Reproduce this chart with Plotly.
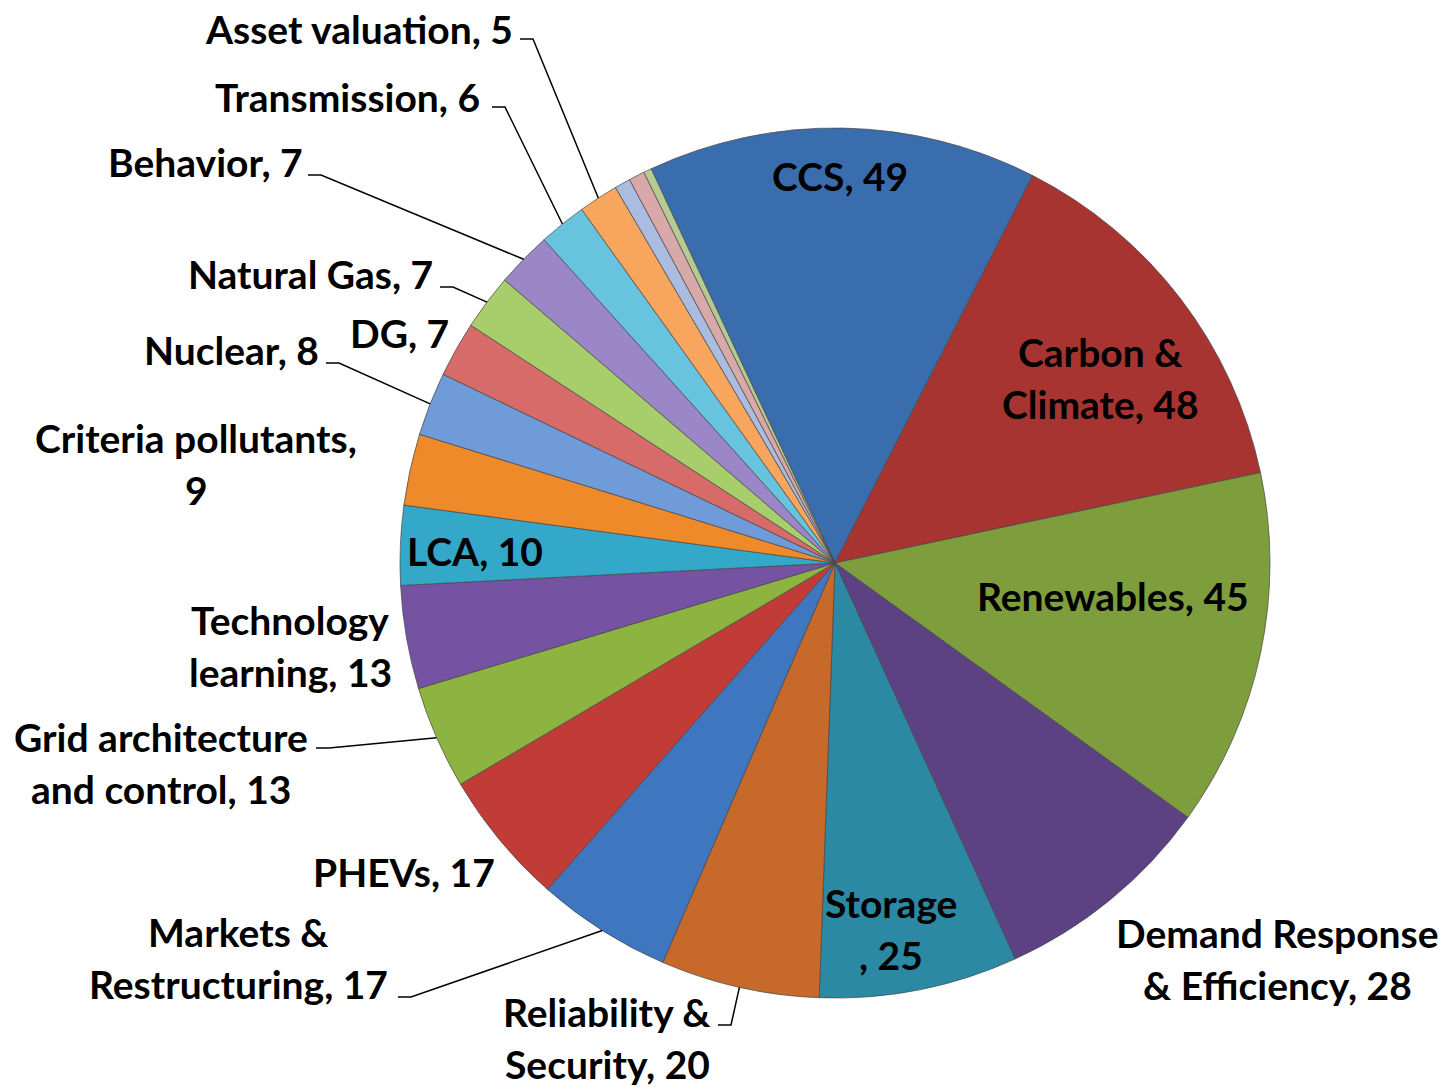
import math
import plotly.graph_objects as go

# ---------------- data ----------------
categories = ["CCS", "Carbon &\nClimate", "Renewables", "Demand Response\n& Efficiency",
              "Storage\n", "Reliability &\nSecurity", "Markets &\nRestructuring", "PHEVs",
              "Grid architecture\nand control", "Technology\nlearning", "LCA",
              "Criteria pollutants", "Nuclear", "DG", "Natural Gas", "Behavior",
              "Transmission", "Asset valuation", "Other A", "Other B", "Other C"]
values = [49, 48, 45, 28, 25, 20, 17, 17, 13, 13, 10, 9, 8, 7, 7, 7, 6, 5, 2, 2, 1]
show_label = [True] * 18 + [False] * 3

colors = ["#3A6DAD", "#A83431", "#7E9D3D", "#5D4283", "#2B89A4", "#C6692B",
          "#3E76C0", "#C13B37", "#8DB440", "#7652A2", "#33A8C8", "#EF8A2B",
          "#6F9BD8", "#D66B6A", "#A8CD6B", "#9B86C7", "#67C3DE", "#F8A55D",
          "#AABDE1", "#D9A8A8", "#B6CB93"]

# ---------------- layout constants ----------------
W, H = 1449, 1087
PAGE_OFFSET = 8                     # default body margin of the page
CX, CY, R = 835, 563, 435          # pie centre / radius in (screen) pixels
ROTATION = -25
FONT = dict(family="Lato, Open Sans, sans-serif", size=39, color="black", weight="bold")
LINE_GAP = 52

# label placement (centre x, first-line centre y) in pixels
label_pos = {
    "CCS": (840, 176), "Carbon &\nClimate": (1100, 352), "Renewables": (1113, 596),
    "Demand Response\n& Efficiency": (1277, 933), "Storage\n": (891, 903),
    "Reliability &\nSecurity": (607, 1012), "Markets &\nRestructuring": (239, 932),
    "PHEVs": (404, 872), "Grid architecture\nand control": (161, 737),
    "Technology\nlearning": (290, 620), "LCA": (475, 551),
    "Criteria pollutants": (196, 438), "Nuclear": (231, 350), "DG": (399, 333),
    "Natural Gas": (310, 274), "Behavior": (205, 162), "Transmission": (347, 97),
    "Asset valuation": (359, 29),
}
# leader line start (x, y) in pixels
leader_start = {
    "Asset valuation": (520, 39), "Transmission": (492, 107), "Behavior": (308, 175),
    "Natural Gas": (440, 287), "Nuclear": (326, 363),
    "Grid architecture\nand control": (316, 748),
    "Markets &\nRestructuring": (398, 997), "Reliability &\nSecurity": (718, 1025),
}


def paper(x, y):
    return (x - PAGE_OFFSET) / W, 1 - (y - PAGE_OFFSET) / H


dx0, dy1 = paper(CX - R, CY - R)
dx1, dy0 = paper(CX + R, CY + R)

fig = go.Figure(go.Pie(
    labels=categories,
    values=values,
    sort=False,
    direction="clockwise",
    rotation=ROTATION,
    textinfo="none",
    hoverinfo="label+value",
    marker=dict(colors=colors, line=dict(color="rgba(70,70,70,0.7)", width=1)),
    domain=dict(x=[dx0, dx1], y=[dy0, dy1]),
    showlegend=False,
))

annotations = []
shapes = []
total = sum(values)
cum = 0
for name, v, show in zip(categories, values, show_label):
    mid = ROTATION + (cum + v / 2) / total * 360
    cum += v
    if not show:
        continue
    if name == "Criteria pollutants":
        text = f"{name},\n{v}"
    else:
        text = f"{name}, {v}"
    lines = text.split("\n")
    x0, y0 = label_pos[name]
    for i, ln in enumerate(lines):
        px, py = paper(x0, y0 + i * LINE_GAP)
        annotations.append(dict(x=px, y=py, xref="paper", yref="paper", text=ln,
                                showarrow=False, xanchor="center", yanchor="middle",
                                font=FONT))
    if name in leader_start:
        sx, sy = leader_start[name]
        a = math.radians(mid)
        ex, ey = CX + R * math.sin(a), CY - R * math.cos(a)
        p1 = paper(sx, sy)
        p2 = paper(sx + 13, sy)
        p3 = paper(ex, ey)
        shapes.append(dict(type="path", xref="paper", yref="paper",
                           path=f"M {p1[0]},{p1[1]} L {p2[0]},{p2[1]} L {p3[0]},{p3[1]}",
                           line=dict(color="black", width=1.5)))

fig.update_layout(
    width=W, height=H,
    margin=dict(l=0, r=0, t=0, b=0),
    paper_bgcolor="white", plot_bgcolor="white",
    annotations=annotations, shapes=shapes,
)

fig.write_html("out.html")
